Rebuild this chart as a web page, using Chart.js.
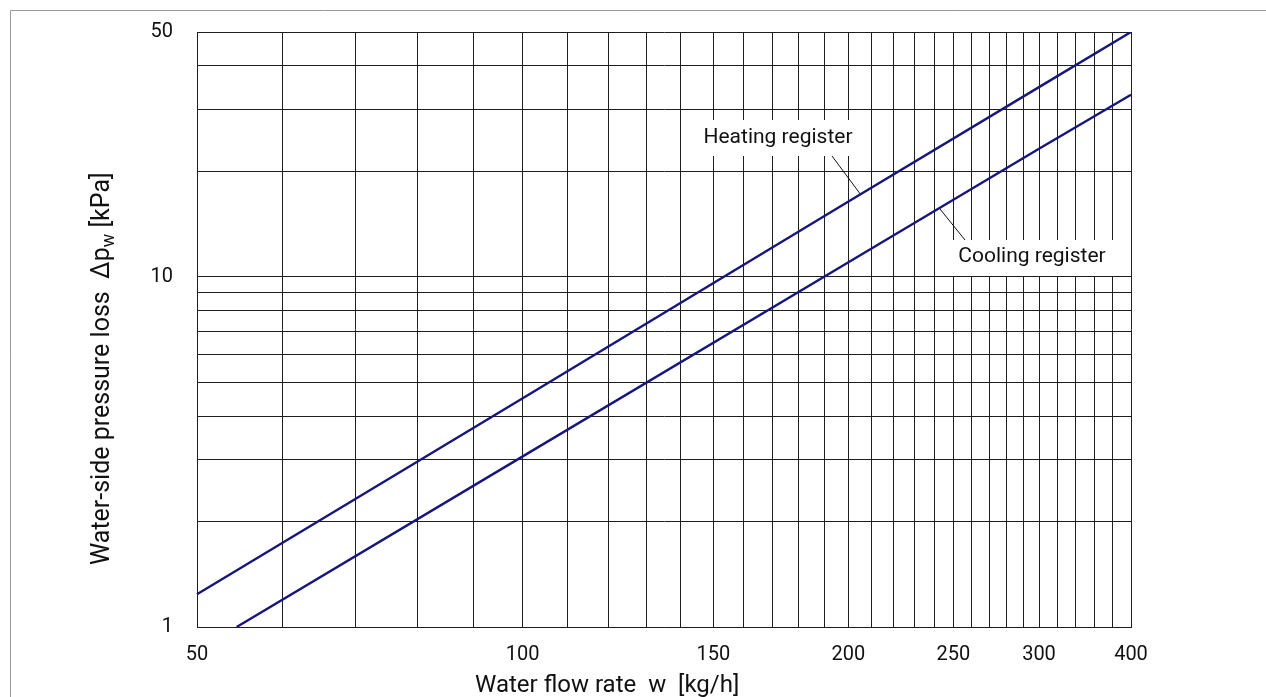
<!DOCTYPE html>
<html>
<head>
<meta charset="utf-8">
<script src="https://cdn.jsdelivr.net/npm/chart.js@4.4.1/dist/chart.umd.min.js"></script>
<style>
  body { margin: 0; background: #fff; }
  #wrap { width: 1266px; height: 697px; position: relative; }
</style>
</head>
<body>
<div id="wrap"><canvas id="lossChart"></canvas></div>
<script>
// values
const flowRates = [50, 100, 200, 300, 400];
const heatingLoss = [1.24, 4.5, 16.4, 34.8, 50];
const coolingFlow = [54.4, 100, 200, 300, 400];
const coolingLoss = [1, 3.07, 11.0, 23.2, 33.1];

// axis ticks
const xGridValues = [50, 60, 70, 80, 90, 100, 110, 120, 130, 140, 150, 160, 170, 180, 190,
  200, 210, 220, 230, 240, 250, 260, 270, 280, 290, 300, 320, 340, 360, 380, 400];
const xTickLabels = [50, 100, 150, 200, 250, 300, 400];
const yGridValues = [1, 2, 3, 4, 5, 6, 7, 8, 9, 10, 20, 30, 40, 50];
const yTickLabels = [1, 10, 50];

const lineColor = "#16167e";
const fontFamily = "Roboto, 'DejaVu Sans', sans-serif";

// the printed x axis is logarithmic up to 300 and linear from 300 to 400
const xMin = 50, xBreak = 300, xMax = 400;
const breakFrac = 0.9015;

class FlowScale extends Chart.Scale {
  determineDataLimits() {
    this.min = xMin;
    this.max = xMax;
  }
  buildTicks() {
    return xGridValues.map((v) => ({ value: v }));
  }
  getLabelForValue(value) {
    return String(value);
  }
  toDecimal(value) {
    if (value <= xBreak) {
      return (Math.log10(value / xMin) / Math.log10(xBreak / xMin)) * breakFrac;
    }
    return breakFrac + ((value - xBreak) / (xMax - xBreak)) * (1 - breakFrac);
  }
  getPixelForValue(value) {
    return this.getPixelForDecimal(this.toDecimal(value));
  }
  getPixelForTick(index) {
    return this.getPixelForValue(this.ticks[index].value);
  }
  getValueForPixel(pixel) {
    const d = this.getDecimalForPixel(pixel);
    if (d <= breakFrac) {
      return xMin * Math.pow(xBreak / xMin, d / breakFrac);
    }
    return xBreak + ((d - breakFrac) / (1 - breakFrac)) * (xMax - xBreak);
  }
}
FlowScale.id = "flowscale";
FlowScale.defaults = {};
Chart.register(FlowScale);

function toPoints(xs, ys) {
  return xs.map((x, i) => ({ x: x, y: ys[i] }));
}

// labels, leader lines and axis titles
const notes = {
  id: "notes",
  beforeDraw(chart) {
    const ctx = chart.ctx;
    ctx.save();
    ctx.strokeStyle = "#9a9a9a";
    ctx.lineWidth = 1;
    ctx.beginPath();
    ctx.moveTo(10.5, chart.height);
    ctx.lineTo(10.5, 10.5);
    ctx.lineTo(chart.width, 10.5);
    ctx.stroke();
    ctx.restore();
  },
  beforeDatasetsDraw(chart) {
    const ctx = chart.ctx;
    ctx.save();
    ctx.fillStyle = "#fff";
    ctx.fillRect(697, 120, 163, 36);
    ctx.fillRect(948, 240, 174, 36);

    ctx.fillStyle = "#111";
    ctx.font = "21px " + fontFamily;
    ctx.textBaseline = "middle";
    ctx.textAlign = "center";
    ctx.fillText("Heating register", 778, 138);
    ctx.fillText("Cooling register", 1032, 257);

    ctx.strokeStyle = "#111";
    ctx.lineWidth = 1;
    ctx.beginPath();
    ctx.moveTo(832, 156);
    ctx.lineTo(861, 195);
    ctx.moveTo(940, 209);
    ctx.lineTo(965, 240);
    ctx.stroke();

    // x axis title
    ctx.font = "24px " + fontFamily;
    ctx.textAlign = "left";
    ctx.fillText("Water flow rate  w  [kg/h]", 475, 686);

    // y axis title with subscript
    ctx.font = "25px " + fontFamily;
    ctx.translate(103, 565);
    ctx.rotate(-Math.PI / 2);
    let x = 0;
    const part1 = "Water-side pressure loss  \u2206p";
    ctx.fillText(part1, x, 0);
    x += ctx.measureText(part1).width;
    ctx.font = "18px " + fontFamily;
    ctx.fillText("w", x, 6);
    x += ctx.measureText("w").width;
    ctx.font = "25px " + fontFamily;
    ctx.fillText(" [kPa]", x, 0);
    ctx.restore();
  },
};

new Chart(document.getElementById("lossChart"), {
  type: "line",
  data: {
    datasets: [
      {
        label: "Heating register",
        data: toPoints(flowRates, heatingLoss),
        borderColor: lineColor,
        borderWidth: 2.4,
        pointRadius: 0,
        tension: 0,
        fill: false,
      },
      {
        label: "Cooling register",
        data: toPoints(coolingFlow, coolingLoss),
        borderColor: lineColor,
        borderWidth: 2.4,
        pointRadius: 0,
        tension: 0,
        fill: false,
      },
    ],
  },
  options: {
    responsive: true,
    maintainAspectRatio: false,
    animation: false,
    parsing: false,
    layout: { padding: { top: 32, right: 135, bottom: 0, left: 0 } },
    plugins: {
      legend: { display: false },
      tooltip: { enabled: false },
    },
    scales: {
      x: {
        type: "flowscale",
        position: "bottom",
        afterFit(scale) {
          scale.height = 70;
          scale.paddingLeft = 0;
          scale.paddingRight = 0;
        },
        grid: { color: "#1e1e1e", lineWidth: 1, drawTicks: false },
        border: { color: "#1e1e1e", width: 1 },
        ticks: {
          autoSkip: false,
          maxRotation: 0,
          minRotation: 0,
          padding: 16,
          color: "#111",
          font: { family: fontFamily, size: 20 },
          callback: (v) => (xTickLabels.includes(v) ? String(v) : ""),
        },
      },
      y: {
        type: "logarithmic",
        min: 1,
        max: 50,
        afterFit(scale) {
          scale.width = 197;
          scale.paddingTop = 0;
          scale.paddingBottom = 0;
        },
        afterBuildTicks(scale) {
          scale.ticks = yGridValues.map((v) => ({ value: v }));
        },
        grid: { color: "#1e1e1e", lineWidth: 1, drawTicks: false },
        border: { color: "#1e1e1e", width: 1 },
        ticks: {
          autoSkip: false,
          padding: 24,
          color: "#111",
          font: { family: fontFamily, size: 20 },
          callback: (v) => (yTickLabels.includes(v) ? String(v) : ""),
        },
      },
    },
  },
  plugins: [notes],
});
</script>
</body>
</html>
